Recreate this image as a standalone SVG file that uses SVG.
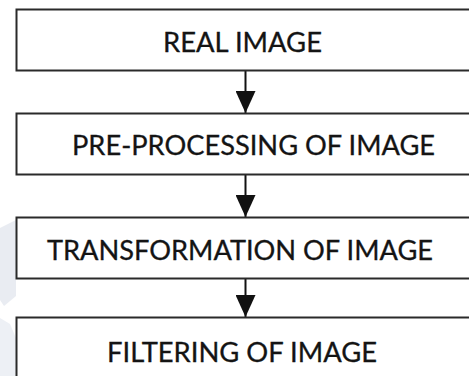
<svg xmlns="http://www.w3.org/2000/svg" width="469" height="376" viewBox="0 0 469 376">
  <style>
    .box { fill: #ffffff; stroke: #2a2a2a; stroke-width: 2; }
    .label { font-family: Lato, "Open Sans", "Liberation Sans", sans-serif; font-size: 26px; fill: #141414; stroke: #141414; stroke-width: 0.3; }
    .wire { stroke: #111111; stroke-width: 2; fill: none; }
    .head { fill: #111111; }
    .mark { fill: #e9ecf2; }
  </style>
  <defs>
    <!-- arrowhead drawn along +x so orient="auto" turns it with the line -->
    <marker id="arrow" viewBox="0 0 22 20" refX="22" refY="10" markerWidth="22" markerHeight="20" markerUnits="userSpaceOnUse" orient="auto">
      <path class="head" d="M0,0 L22,10 L0,20 Z"/>
    </marker>
  </defs>

  <rect width="469" height="376" fill="#ffffff"/>

  <!-- faint background emblem at the left margin -->
  <g id="emblem">
    <path class="mark" d="M0,228 L16,220 L16,296 L4,306 L0,300 Z"/>
    <path class="mark" d="M0,318 L10,324 L16,338 L16,376 L0,376 Z" opacity="0.8"/>
  </g>

  <g id="connectors">
    <line class="wire" x1="245.5" y1="71" x2="245.5" y2="113" marker-end="url(#arrow)"/>
    <line class="wire" x1="245.5" y1="175" x2="245.5" y2="217" marker-end="url(#arrow)"/>
    <line class="wire" x1="245.5" y1="279" x2="245.5" y2="317" marker-end="url(#arrow)"/>
  </g>

  <g id="real-image">
    <rect class="box" x="16.5" y="9.5" width="480" height="61"/>
    <text class="label" x="163" y="52" textLength="159" lengthAdjust="spacingAndGlyphs">REAL IMAGE</text>
  </g>

  <g id="pre-processing">
    <rect class="box" x="16.5" y="113.5" width="480" height="61"/>
    <text class="label" x="72" y="155" textLength="363" lengthAdjust="spacingAndGlyphs">PRE-PROCESSING OF IMAGE</text>
  </g>

  <g id="transformation">
    <rect class="box" x="16.5" y="217.5" width="480" height="61"/>
    <text class="label" x="47" y="260" textLength="386" lengthAdjust="spacingAndGlyphs">TRANSFORMATION OF IMAGE</text>
  </g>

  <g id="filtering">
    <rect class="box" x="16.5" y="317.5" width="480" height="70"/>
    <text class="label" x="107" y="362" textLength="270" lengthAdjust="spacingAndGlyphs">FILTERING OF IMAGE</text>
  </g>
</svg>
